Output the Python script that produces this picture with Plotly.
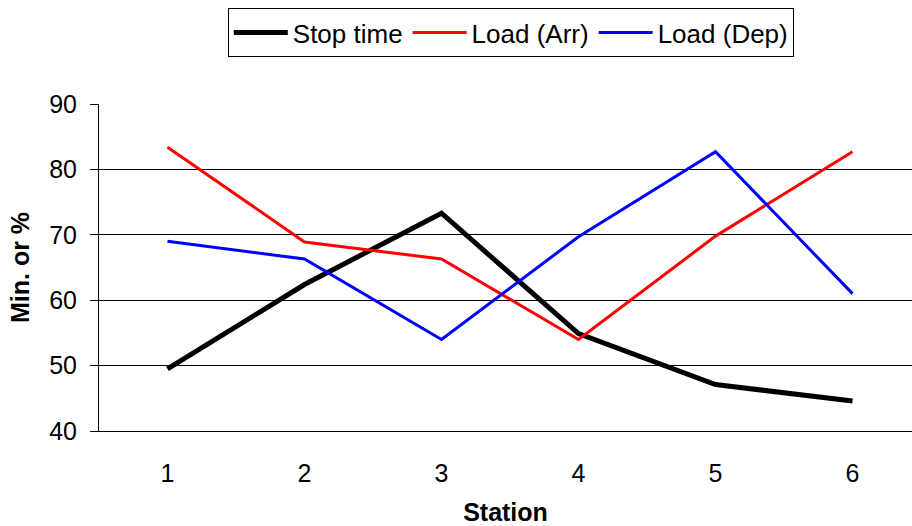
import plotly.graph_objects as go

stations = [1, 2, 3, 4, 5, 6]
stop_time = [49.5, 62.4, 73.3, 54.9, 47.1, 44.6]
load_arr = [83.4, 68.9, 66.3, 54.0, 69.8, 82.7]
load_dep = [69.0, 66.3, 54.0, 69.7, 82.7, 61.0]

FONT = "Liberation Sans, Arial, sans-serif"

fig = go.Figure()
fig.add_trace(go.Scatter(x=stations, y=stop_time, mode="lines", name="Stop time",
                         line=dict(color="black", width=5)))
fig.add_trace(go.Scatter(x=stations, y=load_arr, mode="lines", name="Load (Arr)",
                         line=dict(color="#ff0000", width=3)))
fig.add_trace(go.Scatter(x=stations, y=load_dep, mode="lines", name="Load (Dep)",
                         line=dict(color="#0000ff", width=3)))

fig.update_layout(
    width=912, height=526,
    margin=dict(l=99, r=0, t=104, b=95),
    paper_bgcolor="white", plot_bgcolor="white",
    font=dict(family=FONT, size=25, color="black"),
    showlegend=True,
    legend=dict(orientation="h", x=0.5065, xanchor="center", y=1.293, yanchor="top",
                bordercolor="black", borderwidth=1, bgcolor="white",
                font=dict(family=FONT, size=26), itemwidth=54,
                tracegroupgap=0),
    xaxis=dict(range=[0.5, 0.5 + 813 / 137], tickvals=stations, ticks="",
               showline=True, linecolor="black", linewidth=1, showgrid=False,
               zeroline=False, ticklabelstandoff=20, tickfont=dict(size=25),
               title=dict(text="<b>Station</b>", font=dict(size=25), standoff=22)),
    yaxis=dict(range=[40, 90], dtick=10, showgrid=True, gridcolor="black", gridwidth=1,
               showline=True, linecolor="black", linewidth=1, ticks="outside",
               ticklen=8, tickcolor="black", zeroline=False, ticklabelstandoff=8,
               tickfont=dict(size=25),
               title=dict(text="<b>Min. or %</b>", font=dict(size=25), standoff=12)),
)

fig.write_html("out.html")
